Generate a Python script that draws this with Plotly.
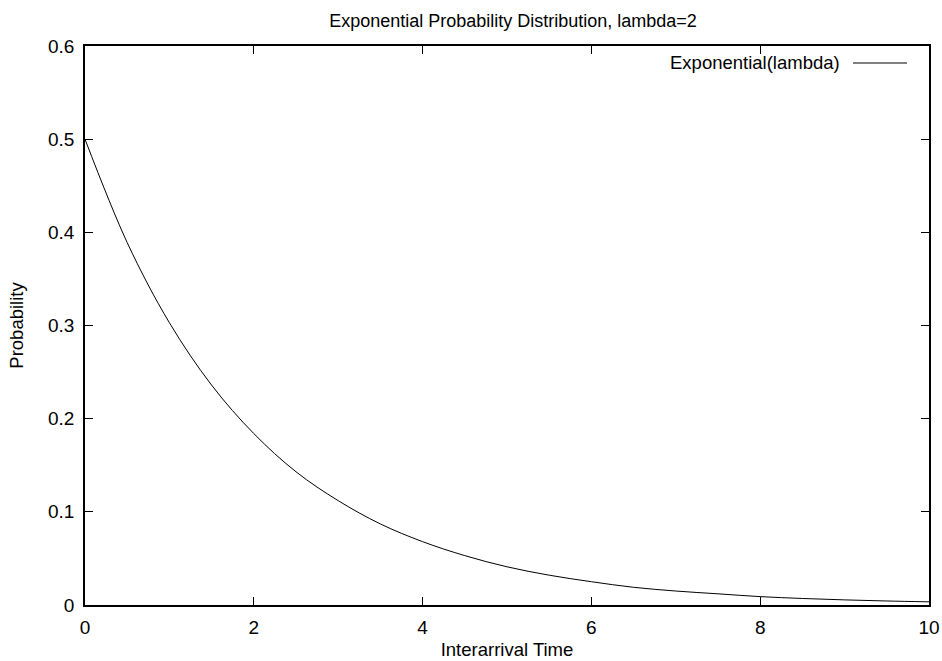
import plotly.graph_objects as go

# values
interarrival_time = [0, 0.5, 1, 1.5, 2, 2.5, 3, 3.5, 4, 4.5, 5,
                     5.5, 6, 6.5, 7, 7.5, 8, 8.5, 9, 9.5, 10]
probability = [0.5, 0.389, 0.303, 0.236, 0.184, 0.143, 0.112, 0.087,
               0.068, 0.053, 0.041, 0.032, 0.025, 0.019, 0.015, 0.012,
               0.009, 0.007, 0.0055, 0.0043, 0.0034]

x_ticks = [0, 2, 4, 6, 8, 10]
y_ticks = [0, 0.1, 0.2, 0.3, 0.4, 0.5, 0.6]
y_tick_labels = ["0", "0.1", "0.2", "0.3", "0.4", "0.5", "0.6"]

font = "Liberation Sans, Arial, sans-serif"
W, H = 942, 661
L, R, T, B = 85, 13, 46, 56

fig = go.Figure()
fig.add_trace(go.Scatter(
    x=interarrival_time,
    y=probability,
    mode="lines",
    line=dict(color="black", width=1, shape="spline"),
    name="Exponential(lambda)",
    showlegend=False,
))

axis_style = dict(
    automargin=False,
    showline=True,
    linecolor="black",
    linewidth=1.5,
    mirror="ticks",
    ticks="inside",
    ticklen=8,
    tickcolor="black",
    tickwidth=1,
    showgrid=False,
    zeroline=False,
    tickfont=dict(family=font, size=19, color="black"),
)

fig.update_layout(
    width=W,
    height=H,
    paper_bgcolor="white",
    plot_bgcolor="white",
    margin=dict(l=L, r=R, t=T, b=B),
    title=dict(
        text="Exponential Probability Distribution, lambda=2",
        xref="paper", x=(513 - L) / (W - L - R), xanchor="center",
        y=1 - 21 / H, yanchor="middle",
        font=dict(family=font, size=18, color="black"),
        automargin=False,
    ),
    xaxis=dict(
        range=[0, 10], tickvals=x_ticks, ticklabelstandoff=4,
        title=dict(text="Interarrival Time", standoff=7,
                   font=dict(family=font, size=18.5, color="black")),
        **axis_style,
    ),
    yaxis=dict(
        range=[0, 0.6], tickvals=y_ticks, ticktext=y_tick_labels,
        ticklabelstandoff=5,
        title=dict(text="Probability", standoff=20,
                   font=dict(family=font, size=18.5, color="black")),
        **axis_style,
    ),
)

# gnuplot-style key: text then line sample, top right
key_y = 1 - (63 - T) / (H - T - B)
fig.add_annotation(
    x=(842 - L) / (W - L - R), y=key_y, xref="paper", yref="paper",
    showarrow=False, text="Exponential(lambda)",
    xanchor="right", yanchor="middle",
    font=dict(family=font, size=18.5, color="black"),
)
fig.add_shape(
    type="line", xref="paper", yref="paper",
    x0=(853 - L) / (W - L - R), x1=(907 - L) / (W - L - R),
    y0=key_y, y1=key_y,
    line=dict(color="black", width=1),
)

fig.write_html("out.html", config={"displayModeBar": False},
               post_script="document.body.style.margin='0';")
